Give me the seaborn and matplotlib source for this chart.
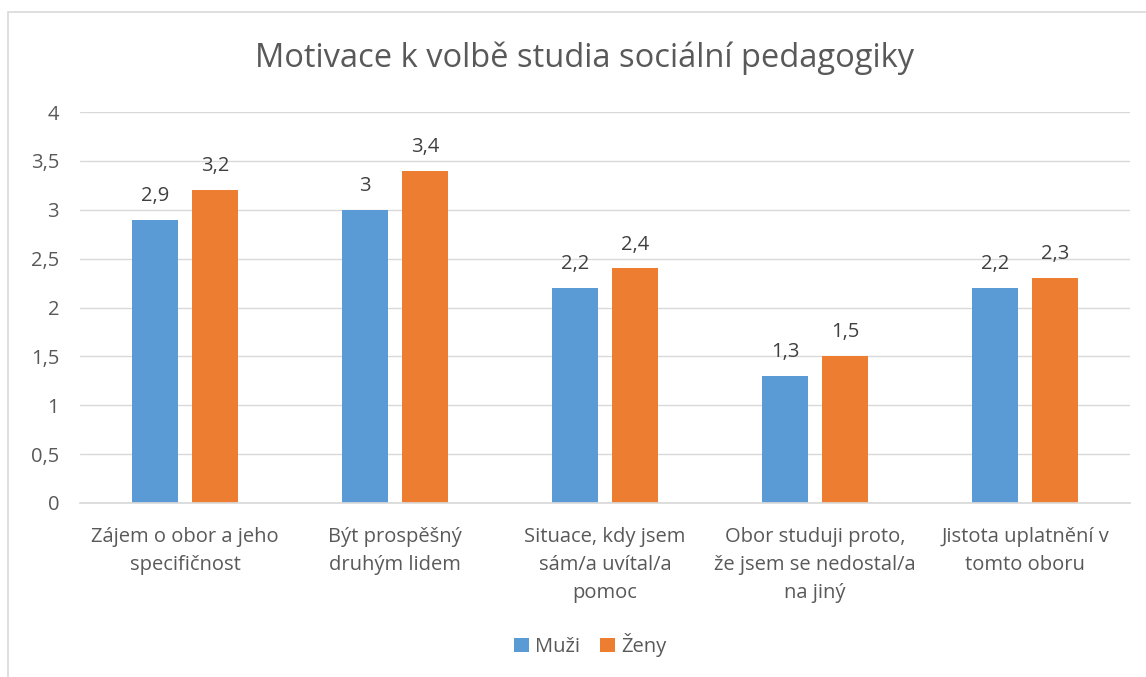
import matplotlib.pyplot as plt
import seaborn as sns
import pandas as pd
from matplotlib.patches import Rectangle

categories = ["Zájem o obor a jeho\nspecifičnost",
              "Být prospěšný\ndruhým lidem",
              "Situace, kdy jsem\nsám/a uvítal/a\npomoc",
              "Obor studuji proto,\nže jsem se nedostal/a\nna jiný",
              "Jistota uplatnění v\ntomto oboru"]
muzi = [2.9, 3.0, 2.2, 1.3, 2.2]
zeny = [3.2, 3.4, 2.4, 1.5, 2.3]
series = ["Muži", "Ženy"]
yticks = [0, 0.5, 1, 1.5, 2, 2.5, 3, 3.5, 4]

df = pd.DataFrame({
    "kategorie": categories * 2,
    "hodnota": muzi + zeny,
    "pohlavi": [series[0]] * len(categories) + [series[1]] * len(categories),
})

sns.set_theme(style="white")
plt.rcParams['font.family'] = ['Open Sans', 'DejaVu Sans']
text_color = "#595959"
fs = 14.5

fig = plt.figure(figsize=(11.46, 6.77), dpi=100)
fig.patches.append(Rectangle((8 / 1146, -0.1), 1.2, 1 - 12 / 677 + 0.1,
                             transform=fig.transFigure, fill=False,
                             edgecolor="#D9D9D9", linewidth=1.2))
ax = fig.add_axes([80 / 1146, 1 - 503 / 677, 1050 / 1146, 391 / 677])

sns.barplot(data=df, x="kategorie", y="hodnota", hue="pohlavi",
            palette=["#5B9BD5", "#ED7D31"], width=0.571, gap=0.217,
            saturation=1, linewidth=0, ax=ax, legend=True)

for cont in ax.containers:
    labels = [f"{v:g}".replace(".", ",") for v in cont.datavalues]
    ax.bar_label(cont, labels=labels, padding=10, fontsize=fs, color="#404040")

ax.set_ylim(0, 4)
ax.set_yticks(yticks)
ax.set_yticklabels([f"{t:g}".replace(".", ",") for t in yticks])
ax.set_xlim(-0.5, len(categories) - 0.5)
ax.yaxis.grid(True, color="#D9D9D9", linewidth=1)
ax.set_axisbelow(True)
for s in ["top", "right", "left"]:
    ax.spines[s].set_visible(False)
ax.spines["bottom"].set_color("#D9D9D9")
ax.tick_params(axis="both", length=0, labelsize=fs, colors=text_color)
ax.tick_params(axis="x", pad=17)
ax.tick_params(axis="y", pad=15)
ax.set_xlabel("")
ax.set_ylabel("")
for lbl in ax.get_xticklabels():
    lbl.set_linespacing(1.53)

fig.text(585 / 1146, 1 - 58 / 677, "Motivace k volbě studia sociální pedagogiky",
         ha="center", va="center", fontsize=23.5, color=text_color)

ax.legend(loc="center", bbox_to_anchor=(590 / 1146, 1 - 645 / 677),
          bbox_transform=fig.transFigure, ncol=2, frameon=False,
          fontsize=fs, labelcolor=text_color, handlelength=0.75,
          handleheight=0.75, handletextpad=0.3, columnspacing=1.0)

fig.savefig("out.png", dpi=100)
